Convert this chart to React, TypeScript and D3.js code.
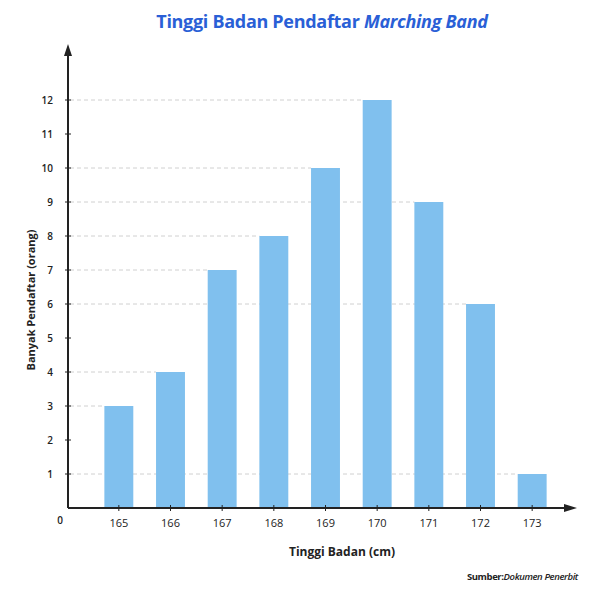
import React from "react";
import * as d3 from "d3";

const categories = ["165", "166", "167", "168", "169", "170", "171", "172", "173"];
const values = [3, 4, 7, 8, 10, 12, 9, 6, 1];
const yTicks = [1, 2, 3, 4, 5, 6, 7, 8, 9, 10, 11, 12];

const W = 600, H = 589;
const ox = 68, oy = 508;

export default function App() {
  const x = d3.scaleBand<string>().domain(categories).range([93, 558]).paddingInner(0.44).paddingOuter(0.22);
  const y = d3.scaleLinear().domain([0, 12]).range([oy, 100]);
  const font = "'Open Sans', 'Noto Sans', sans-serif";
  const bw = x.bandwidth();
  return (
    <svg width={W} height={H} style={{ position: "absolute", left: 0, top: 0, background: "#fff" }} fontFamily={font}>
      <text x={322} y={28} textAnchor="middle" fontSize={18} fontWeight={700} fill="#2a5fd6" letterSpacing={-0.3}>
        Tinggi Badan Pendaftar <tspan fontStyle="italic">Marching Band</tspan>
      </text>
      {categories.map((c, i) => (
        <line key={"g" + c} x1={ox + 2} x2={x(c)!} y1={y(values[i])} y2={y(values[i])} stroke="#d0d0d0" strokeWidth={1} strokeDasharray="4,3" />
      ))}
      {categories.map((c, i) => (
        <rect key={"b" + c} x={x(c)!} y={y(values[i])} width={bw} height={oy - y(values[i])} fill="#80c0ee" />
      ))}
      <line x1={ox} y1={oy} x2={ox} y2={52} stroke="#222" strokeWidth={2} />
      <path d={`M${ox - 4},${56} L${ox},${44} L${ox + 4},${56} Z`} fill="#222" />
      <line x1={ox} y1={oy} x2={566} y2={oy} stroke="#222" strokeWidth={2} />
      <path d={`M${564},${oy - 4} L${577},${oy} L${564},${oy + 4} Z`} fill="#222" />
      {yTicks.map((t) => (
        <g key={"t" + t}>
          <line x1={ox - 3} x2={ox + 3} y1={y(t)} y2={y(t)} stroke="#222" strokeWidth={1} />
          <text x={53} y={y(t)} dy="0.35em" textAnchor="end" fontSize={10} fontWeight={600} fill="#222">{t}</text>
        </g>
      ))}
      <text x={60} y={524} textAnchor="middle" fontSize={10} fontWeight={600} fill="#222">0</text>
      {categories.map((c) => (
        <g key={"x" + c}>
          <line x1={x(c)! + bw / 2} x2={x(c)! + bw / 2} y1={oy - 3} y2={oy + 3} stroke="#222" strokeWidth={1} />
          <text x={x(c)! + bw / 2} y={527} textAnchor="middle" fontSize={11} fontWeight={500} fill="#222">{c}</text>
        </g>
      ))}
      <text x={342} y={556} textAnchor="middle" fontSize={12} fontWeight={700} fill="#222">Tinggi Badan (cm)</text>
      <text transform={`translate(35,300) rotate(-90)`} textAnchor="middle" fontSize={11} fontWeight={700} fill="#222">Banyak Pendaftar (orang)</text>
      <text x={578} y={580} textAnchor="end" fontSize={9.5} fill="#222" letterSpacing={-0.4}>
        <tspan fontWeight={700}>Sumber:</tspan><tspan fontStyle="italic" fontWeight={600}>Dokumen Penerbit</tspan>
      </text>
    </svg>
  );
}
